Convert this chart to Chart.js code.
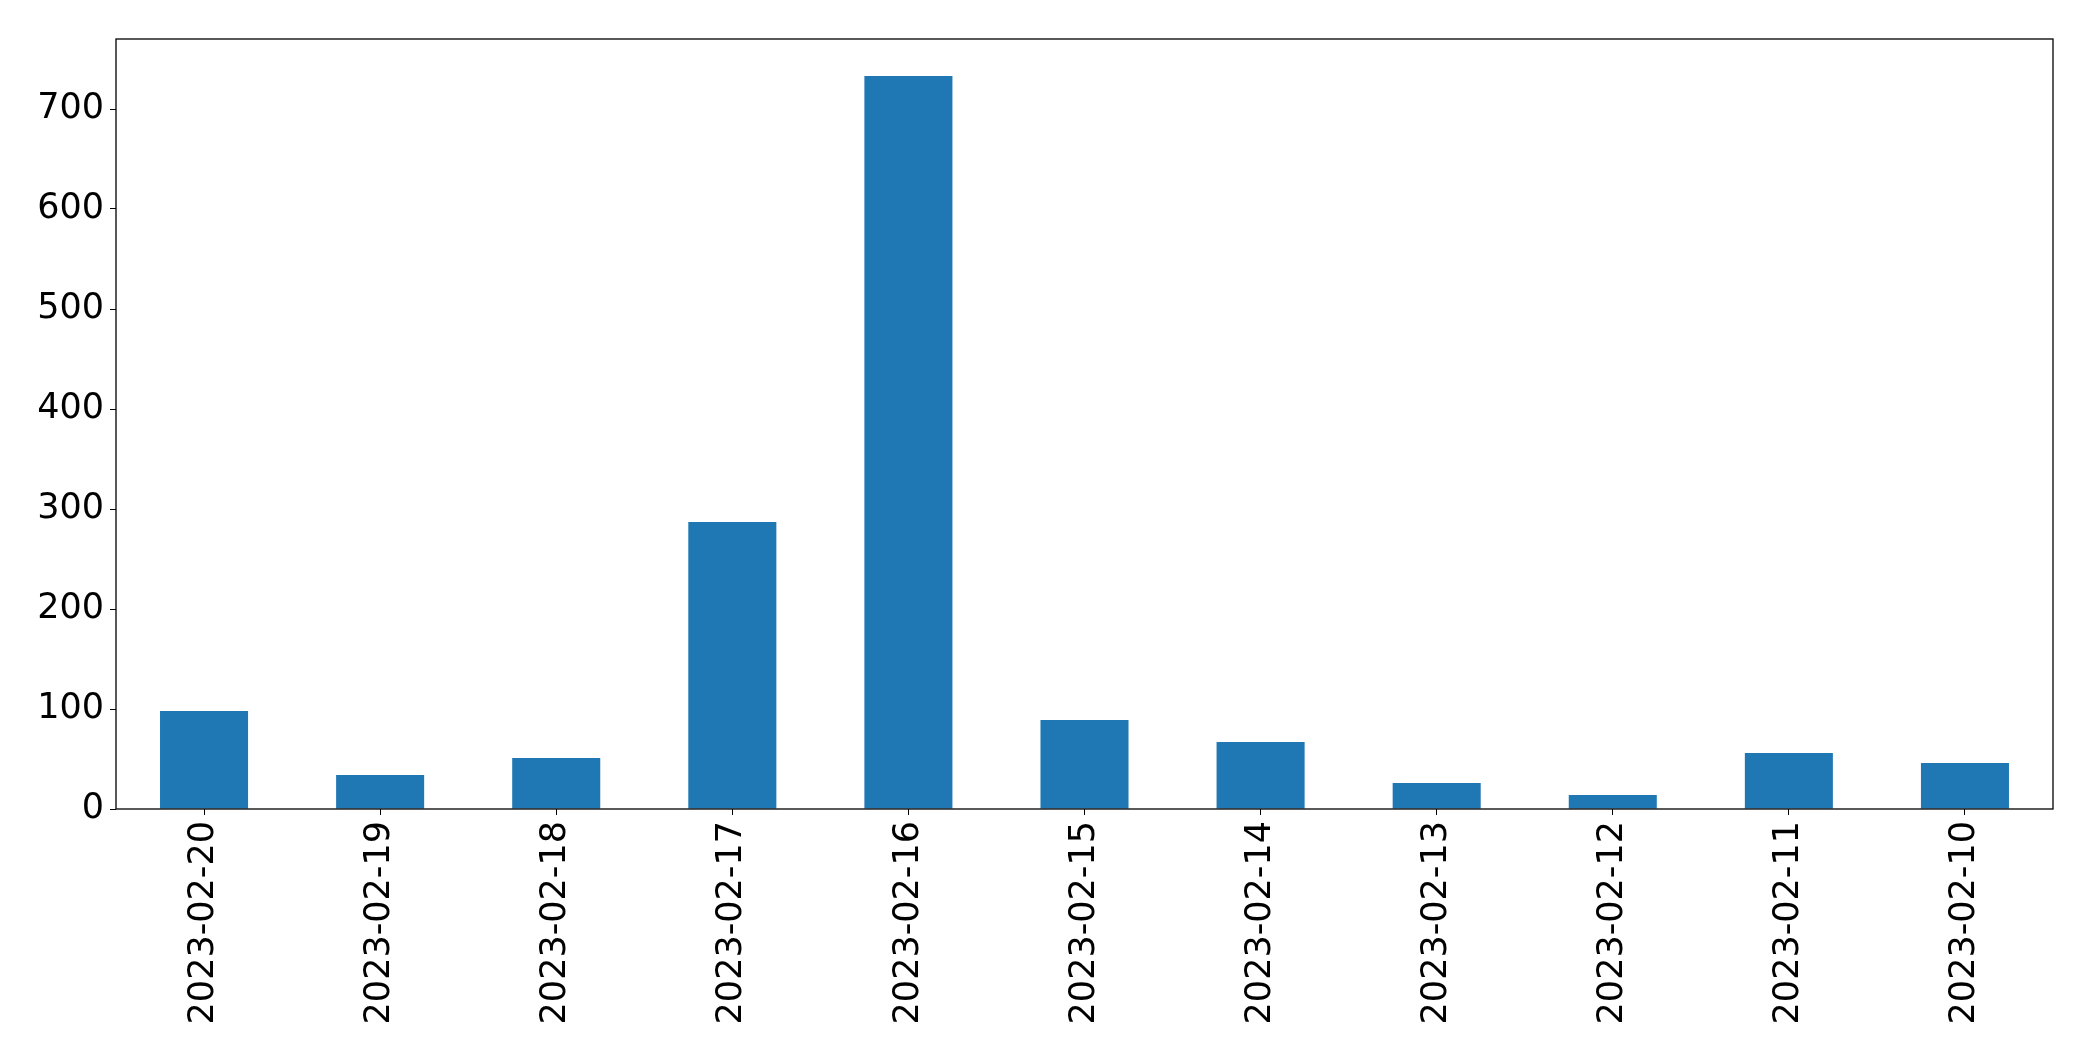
<!DOCTYPE html>
<html>
<head>
<meta charset="utf-8">
<script src="https://cdn.jsdelivr.net/npm/chart.js@4.4.0/dist/chart.umd.min.js"></script>
<style>
  html, body { margin: 0; padding: 0; background: #fff; }
  #wrap { width: 2093px; height: 1061px; }
</style>
</head>
<body>
<div id="wrap"><canvas id="countChart" width="2093" height="1061"></canvas></div>
<script>
// Data
const dates = [
  "2023-02-20", "2023-02-19", "2023-02-18", "2023-02-17", "2023-02-16", "2023-02-15",
  "2023-02-14", "2023-02-13", "2023-02-12", "2023-02-11", "2023-02-10"
];
const counts = [98, 34, 51, 287, 733, 89, 67, 26, 14, 56, 46];
const yTicks = [0, 100, 200, 300, 400, 500, 600, 700];

const FONT = { family: "'DejaVu Sans', sans-serif", size: 35 };

// draws the full black frame around the plot area (matplotlib style)
const frame = {
  id: "frame",
  afterDraw(chart) {
    const { ctx, chartArea: a } = chart;
    ctx.save();
    ctx.strokeStyle = "#000";
    ctx.lineWidth = 1.3;
    ctx.strokeRect(a.left, a.top, a.right - a.left, a.bottom - a.top);
    ctx.restore();
  },
};

document.addEventListener("DOMContentLoaded", () => {
  const ctx = document.getElementById("countChart").getContext("2d");

  new Chart(ctx, {
    type: "bar",
    data: {
      labels: dates,
      datasets: [
        {
          data: counts,
          backgroundColor: "#1f77b4",
          borderWidth: 0,
          categoryPercentage: 1.0,
          barPercentage: 0.5,
        },
      ],
    },
    options: {
      responsive: false,
      animation: false,
      devicePixelRatio: 1,
      layout: { padding: { top: 39, right: 40, left: 0, bottom: 0 } },
      plugins: {
        legend: { display: false },
        tooltip: { enabled: false },
      },
      scales: {
        x: {
          grid: { display: true, offset: false, drawOnChartArea: false, drawTicks: true, tickLength: 6, color: "#000" },
          border: { display: false },
          ticks: {
            color: "#000",
            font: FONT,
            minRotation: 90,
            maxRotation: 90,
            padding: 6,
            autoSkip: false,
          },
          afterFit(scale) {
            scale.height = 252;
          },
        },
        y: {
          min: 0,
          max: 770,
          grid: { display: true, drawOnChartArea: false, drawTicks: true, tickLength: 6, color: "#000" },
          border: { display: false },
          afterBuildTicks(scale) {
            scale.ticks = yTicks.map((v) => ({ value: v }));
          },
          ticks: {
            color: "#000",
            font: FONT,
            padding: 6,
          },
          afterFit(scale) {
            scale.width = 116;
          },
        },
      },
    },
    plugins: [frame],
  });
});
</script>
</body>
</html>
